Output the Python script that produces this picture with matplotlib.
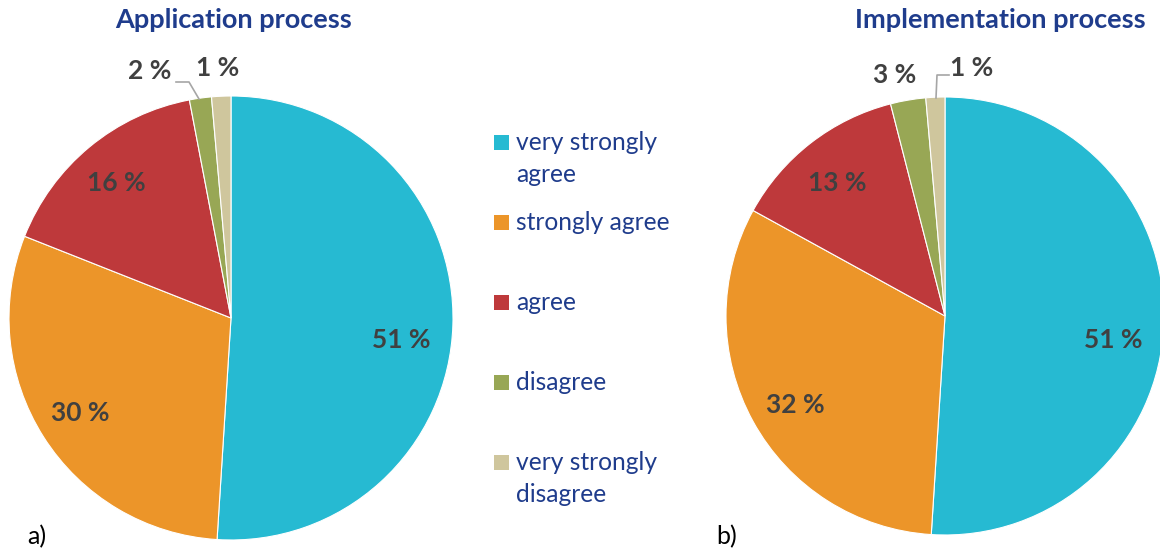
import matplotlib
matplotlib.use("Agg")
import matplotlib.pyplot as plt
from matplotlib.patches import Rectangle

categories = ["very strongly\nagree", "strongly agree", "agree", "disagree", "very strongly\ndisagree"]
# slice shares (labels show them rounded)
application = [51, 30, 16, 1.6, 1.4]
implementation = [51, 32, 13, 2.6, 1.4]
titles = ["Application process", "Implementation process"]
panel_labels = ["a)", "b)"]
colors = ["#26BAD2", "#EC9529", "#BE393B", "#98A755", "#CFC69D"]

W, H = 1160, 553
FONT = "Lato"
fig = plt.figure(figsize=(W / 100, H / 100), dpi=100)
ax = fig.add_axes([0, 0, 1, 1])

def Y(py):
    return H - py

pies = [
    (application, (231, Y(318)), 222),
    (implementation, (945, Y(316)), 219),
]
for vals, c, r in pies:
    ax.pie(vals, colors=colors, startangle=90, counterclock=False, center=c, radius=r,
           wedgeprops=dict(edgecolor="white", linewidth=0.8), frame=True)
ax.set_xlim(0, W)
ax.set_ylim(0, H)
ax.set_aspect("equal")
ax.axis("off")

lab_color = "#404040"
left_pos = [(401, 340), (80, 413), (116, 183), (150, 71), (218, 68)]
right_pos = [(1113, 340), (795, 405), (837, 183), (895, 75), (972, 68)]
for vals, pos in [(application, left_pos), (implementation, right_pos)]:
    for v, (x, y) in zip(vals, pos):
        ax.text(x, Y(y), f"{round(v)} %", ha="center", va="center", fontsize=19,
                fontweight="bold", color=lab_color, family=FONT)

# leader lines
ax.plot([176, 189, 199], [Y(82), Y(82), Y(99)], color="#A6A6A6", lw=1.2)
ax.plot([949, 937, 936], [Y(75), Y(75), Y(98)], color="#A6A6A6", lw=1.2)

title_color = "#1F3C8C"
ax.text(234, Y(20), titles[0], ha="center", va="center", fontsize=19.5,
        fontweight="bold", color=title_color, family=FONT)
ax.text(1000, Y(20), titles[1], ha="center", va="center", fontsize=19.5,
        fontweight="bold", color=title_color, family=FONT)

ax.text(27, Y(537), panel_labels[0], ha="left", va="center", fontsize=18, color="black", family=FONT)
ax.text(716, Y(537), panel_labels[1], ha="left", va="center", fontsize=18, color="black", family=FONT)

# legend
leg_color = "#1F3C8C"
for i, (cat, col) in enumerate(zip(categories, colors)):
    yc = 142 + 80 * i
    ax.add_patch(Rectangle((494, Y(yc) - 7.5), 15, 15, facecolor=col, edgecolor="none"))
    for j, line in enumerate(cat.split("\n")):
        ax.text(516, Y(yc + 8 + 32 * j), line, ha="left", va="baseline", fontsize=17.7,
                color=leg_color, family=FONT)

fig.savefig("out.png", dpi=100)
